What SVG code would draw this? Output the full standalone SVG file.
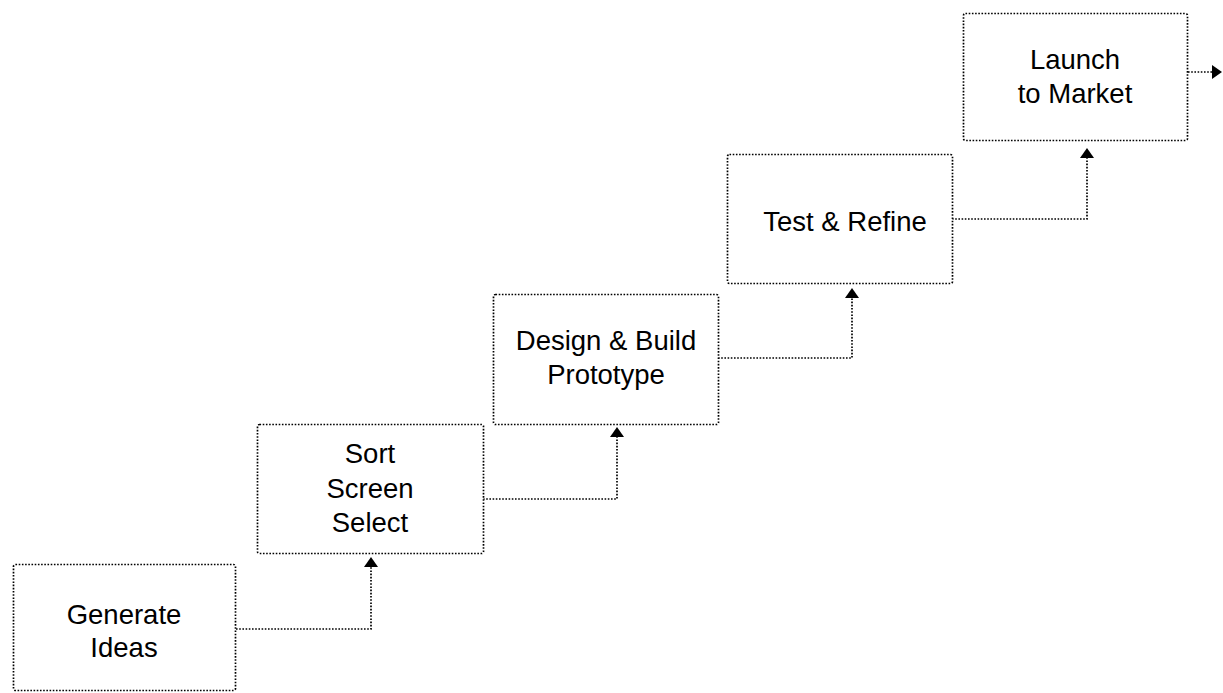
<svg xmlns="http://www.w3.org/2000/svg" width="1223" height="693" viewBox="0 0 1223 693">
<style>
.box{fill:#fff;stroke:#000;stroke-width:1.7;stroke-dasharray:1.6 1.6}
.conn{fill:none;stroke:#000;stroke-width:1.7;stroke-dasharray:1.6 1.6}
.lbl{font-family:"Liberation Sans",Arial,sans-serif;font-size:27.5px;fill:#000;text-anchor:middle}
.head{fill:#000}
</style>
<rect width="1223" height="693" fill="#fff"/>
<g id="connectors">
<path class="conn" d="M236 629 H371 V566"/>
<path class="head" d="M371 557 L378 567 L364 567 Z"/>
<path class="conn" d="M483 499 H617 V436"/>
<path class="head" d="M617 427 L624 437 L610 437 Z"/>
<path class="conn" d="M718 358 H852 V297"/>
<path class="head" d="M852 288 L859 298 L845 298 Z"/>
<path class="conn" d="M952 219 H1087 V157"/>
<path class="head" d="M1087 148 L1094 158 L1080 158 Z"/>
<path class="conn" d="M1188 72 H1213"/>
<path class="head" d="M1222 72 L1212 65 L1212 79 Z"/>
</g>
<g id="generate-ideas">
<rect class="box" x="13.5" y="564.5" width="222" height="126" rx="2"/>
<text class="lbl" x="124" y="624">Generate</text>
<text class="lbl" x="124" y="657">Ideas</text>
</g>
<g id="sort-screen-select">
<rect class="box" x="257.5" y="424.5" width="226" height="129" rx="2"/>
<text class="lbl" x="370" y="463">Sort</text>
<text class="lbl" x="370" y="498">Screen</text>
<text class="lbl" x="370" y="532">Select</text>
</g>
<g id="design-build-prototype">
<rect class="box" x="493.5" y="294.5" width="225" height="130" rx="2"/>
<text class="lbl" x="606" y="350">Design &amp; Build</text>
<text class="lbl" x="606" y="384">Prototype</text>
</g>
<g id="test-refine">
<rect class="box" x="727.5" y="154.5" width="225" height="129" rx="2"/>
<text class="lbl" x="845" y="231">Test &amp; Refine</text>
</g>
<g id="launch-to-market">
<rect class="box" x="963.5" y="13.5" width="224" height="127" rx="2"/>
<text class="lbl" x="1075" y="69">Launch</text>
<text class="lbl" x="1075" y="103">to Market</text>
</g>
</svg>
